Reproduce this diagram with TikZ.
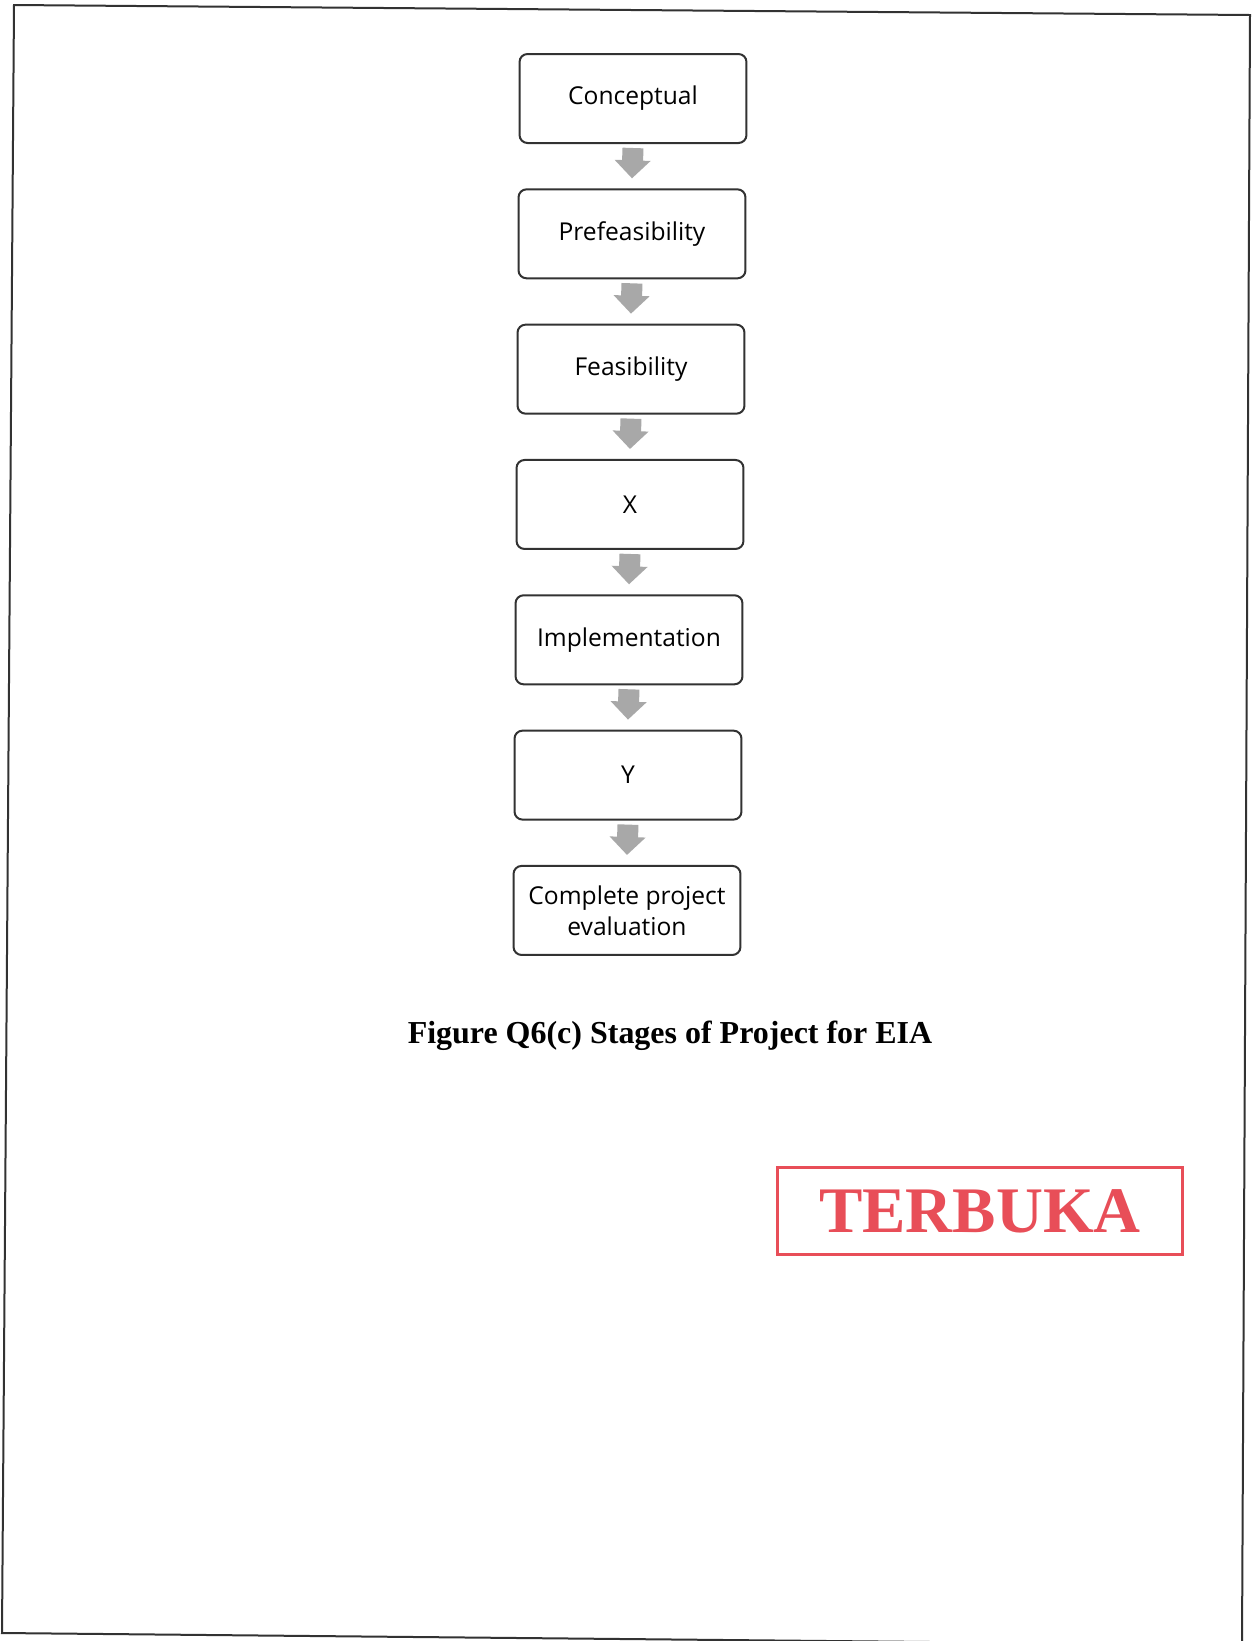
\documentclass[tikz,border=0pt]{standalone}
\usepackage{fontspec}
\setmainfont{Liberation Serif}
\newfontfamily\boxfont{Open Sans}
\usetikzlibrary{arrows.meta,positioning}
\definecolor{boxline}{RGB}{50,50,50}
\definecolor{arrowgrey}{RGB}{168,168,168}
\definecolor{stampred}{RGB}{232,78,88}

\begin{document}
\begin{tikzpicture}[x=0.02cm, y=-0.02cm,
    stage/.style={rectangle, draw=boxline, line width=0.04cm, rounded corners=0.16cm,
                  minimum width=4.54cm, minimum height=1.78cm, align=center,
                  font=\boxfont\fontsize{14}{17.6}\selectfont, text=black},
    flow/.style={-{Triangle[width=0.7cm,length=0.36cm]}, line width=0.42cm, arrowgrey},
    node distance=0.887cm
]
    \useasboundingbox (0,0) rectangle (1256,1641);
    \fill[white] (0,0) rectangle (1256,1641);
    % page frame of the scan
    \begin{scope}
        \clip (0,0) rectangle (1256,1641);
        \draw[boxline, line width=0.04cm] (14,5) -- (1250,15) -- (1242,1645) -- (2,1633) -- cycle;
    \end{scope}

    \node[stage] (concept) at (633,98.5) {Conceptual};
    \node[stage, below=of concept, xshift=-0.02cm] (prefeas) {Prefeasibility};
    \node[stage, below=of prefeas, xshift=-0.02cm] (feas) {Feasibility};
    \node[stage, below=of feas, xshift=-0.02cm] (stagex) {X};
    \node[stage, below=of stagex, xshift=-0.02cm] (implem) {Implementation};
    \node[stage, below=of implem, xshift=-0.02cm] (stagey) {Y};
    \node[stage, below=of stagey, xshift=-0.02cm] (evalu) {Complete project\\evaluation};

    \draw[flow] ([yshift=-0.08cm]concept.south) -- ([yshift=0.2cm]prefeas.north);
    \draw[flow] ([yshift=-0.08cm]prefeas.south) -- ([yshift=0.2cm]feas.north);
    \draw[flow] ([yshift=-0.08cm]feas.south) -- ([yshift=0.2cm]stagex.north);
    \draw[flow] ([yshift=-0.08cm]stagex.south) -- ([yshift=0.2cm]implem.north);
    \draw[flow] ([yshift=-0.08cm]implem.south) -- ([yshift=0.2cm]stagey.north);
    \draw[flow] ([yshift=-0.08cm]stagey.south) -- ([yshift=0.2cm]evalu.north);

    \node[anchor=base, font=\bfseries\fontsize{18.2}{22}\selectfont] (caption) at (670,1043)
        {Figure Q6(c) Stages of Project for EIA};

    \node[draw=stampred, line width=0.06cm, text=stampred, minimum width=8.12cm,
          minimum height=1.74cm, font=\bfseries\fontsize{37}{40}\selectfont] (stamp) at (980,1211) {TERBUKA};
\end{tikzpicture}
\end{document}
